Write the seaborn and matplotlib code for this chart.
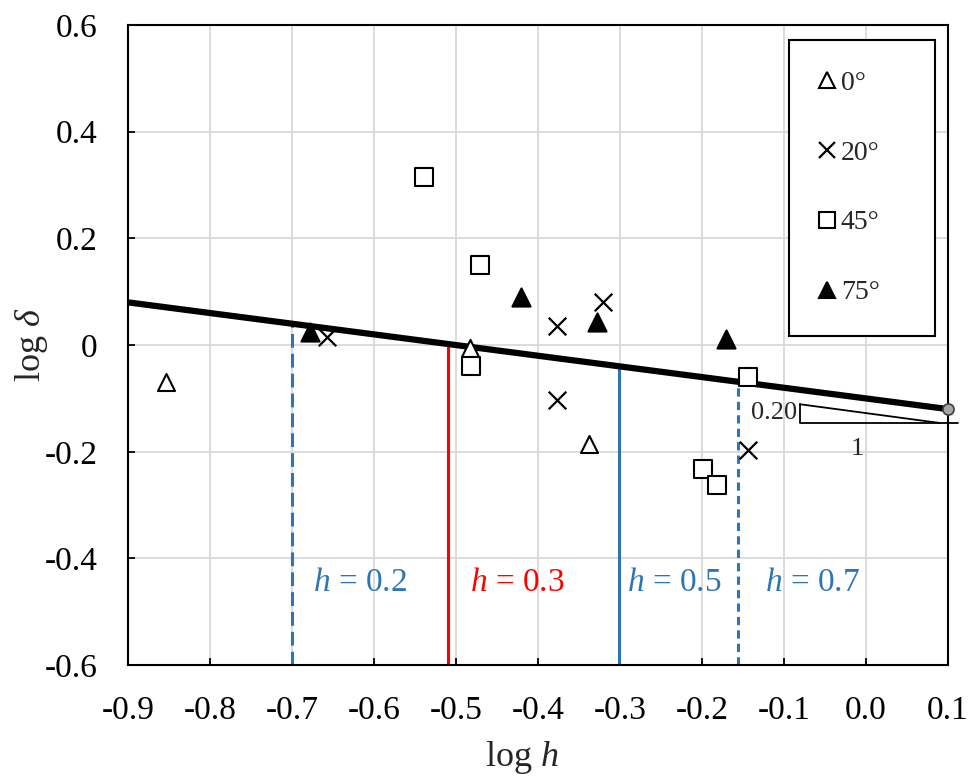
import numpy as np
import pandas as pd
import matplotlib
matplotlib.use("Agg")
import matplotlib.pyplot as plt
from matplotlib.lines import Line2D
import seaborn as sns

# ---- data ----
angles = ["0°", "20°", "45°", "75°"]
x_0 = [-0.854, -0.483, -0.338]
y_0 = [-0.069, -0.006, -0.186]
x_20 = [-0.657, -0.377, -0.320, -0.377, -0.144]
y_20 = [0.015, 0.036, 0.081, -0.103, -0.197]
x_45 = [-0.539, -0.470, -0.482, -0.144, -0.199, -0.182]
y_45 = [0.315, 0.150, -0.039, -0.060, -0.233, -0.263]
x_75 = [-0.678, -0.421, -0.328, -0.170]
y_75 = [0.024, 0.090, 0.043, 0.011]

fit_slope = -0.20
fit_intercept = -0.10
fit_x = [-0.9, 0.1]

h_values = ["0.2", "0.3", "0.5", "0.7"]
h_logs = [-0.70, -0.51, -0.301, -0.156]

x_ticks = [-0.9, -0.8, -0.7, -0.6, -0.5, -0.4, -0.3, -0.2, -0.1, 0.0, 0.1]
x_ticklabels = ["-0.9", "-0.8", "-0.7", "-0.6", "-0.5", "-0.4", "-0.3", "-0.2", "-0.1", "0.0", "0.1"]
y_ticks = [-0.6, -0.4, -0.2, 0.0, 0.2, 0.4, 0.6]
y_ticklabels = ["-0.6", "-0.4", "-0.2", "0", "0.2", "0.4", "0.6"]

df = pd.concat([
    pd.DataFrame({"x": x_0, "y": y_0, "angle": angles[0]}),
    pd.DataFrame({"x": x_20, "y": y_20, "angle": angles[1]}),
    pd.DataFrame({"x": x_45, "y": y_45, "angle": angles[2]}),
    pd.DataFrame({"x": x_75, "y": y_75, "angle": angles[3]}),
])

# ---- style ----
sns.set_theme(style="white")
plt.rcParams["font.family"] = ["Liberation Serif", "DejaVu Serif"]
plt.rcParams["mathtext.fontset"] = "custom"
plt.rcParams["mathtext.rm"] = "Liberation Serif"
plt.rcParams["mathtext.it"] = "Liberation Serif:italic"
plt.rcParams["axes.unicode_minus"] = False

fig = plt.figure(figsize=(9.7, 7.78), dpi=100)
ax = fig.add_axes([0.132, 0.145, 0.845, 0.823])

blue = "#2E75B6"
red = "#FF0000"

ax.set_xlim(-0.9, 0.1)
ax.set_ylim(-0.6, 0.6)
ax.set_xticks(x_ticks)
ax.set_yticks(y_ticks)
ax.set_xticklabels(x_ticklabels)
ax.set_yticklabels(y_ticklabels)
ax.grid(True, color="#d9d9d9", lw=1.3, zorder=0)
ax.set_axisbelow(True)

# fit line
fx = np.array(fit_x)
ax.plot(fx, fit_slope * fx + fit_intercept, color="black", lw=4.5, zorder=3, solid_capstyle="butt")
ax.plot([fit_x[1]], [fit_slope * fit_x[1] + fit_intercept], "o", ms=8,
        mfc="#a6a6a6", mec="#404040", mew=1.2, zorder=6, clip_on=False)

# vertical h lines
styles = [(blue, (0, (4.5, 2))), (red, "-"), (blue, "-"), (blue, (0, (2.7, 1.7)))]
for hl, (c, ls) in zip(h_logs, styles):
    ytop = fit_slope * hl + fit_intercept
    ax.plot([hl, hl], [-0.6, ytop], color=c, lw=2.2, ls=ls, zorder=2)

label_x = [-0.674, -0.483, -0.291, -0.123]
for lx, hv, (c, _) in zip(label_x, h_values, styles):
    ax.text(lx, -0.445, "$h$ = " + hv, color=c, fontsize=24, va="center", ha="left", zorder=5)

# scatter markers
marker_specs = {
    "0°": dict(marker="^", facecolor="white", edgecolor="black", s=150, linewidth=1.5),
    "20°": dict(marker="x", color="black", s=160, linewidth=1.6),
    "45°": dict(marker="s", facecolor="white", edgecolor="black", s=180, linewidth=1.5),
    "75°": dict(marker="^", facecolor="black", edgecolor="black", s=170, linewidth=1.5),
}
for a in angles:
    sub = df[df["angle"] == a]
    sns.scatterplot(data=sub, x="x", y="y", ax=ax, zorder=4, legend=False, **marker_specs[a])

leg_handles = [
    Line2D([], [], ls="none", marker="^", mfc="white", mec="black", ms=11, mew=1.5),
    Line2D([], [], ls="none", marker="x", color="black", ms=11, mew=1.6),
    Line2D([], [], ls="none", marker="s", mfc="white", mec="black", ms=11, mew=1.5),
    Line2D([], [], ls="none", marker="^", mfc="black", mec="black", ms=12, mew=1.5),
]
leg = ax.legend(leg_handles, angles, loc="upper left",
                bbox_to_anchor=(0.807, 0.536, 0.178, 0.441), mode="expand",
                fontsize=20, frameon=True, fancybox=False, edgecolor="black",
                handlelength=0.5, handletextpad=0.25, labelspacing=1.6,
                borderpad=1.1, borderaxespad=0, framealpha=1)
leg.get_frame().set_linewidth(1.5)
leg.set_zorder(7)

# slope triangle
tx0, tx1, tip = -0.08, 0.113, 0.09
ty0, ty1 = -0.111, -0.146
ax.plot([tx0, tx0, tx1], [ty0, ty1, ty1], color="black", lw=1.3, clip_on=False, zorder=5)
ax.plot([tx0, tip], [ty0, ty1], color="black", lw=1.3, clip_on=False, zorder=5)
ax.text(-0.084, -0.128, "0.20", fontsize=19, ha="right", va="center")
ax.text(-0.010, -0.195, "1", fontsize=19, ha="center", va="center")

# spines & ticks
for sp in ax.spines.values():
    sp.set_visible(True)
    sp.set_color("black")
    sp.set_linewidth(1.5)
ax.tick_params(axis="both", direction="in", length=5, width=1.3, colors="black",
               labelsize=24, bottom=True, left=True)
ax.tick_params(axis="x", pad=22)
ax.tick_params(axis="y", pad=22)
ax.set_xlabel("log $h$", fontsize=26)
ax.set_ylabel("log $\\delta$", fontsize=26)
ax.xaxis.set_label_coords(0.48, -0.115)
ax.yaxis.set_label_coords(-0.095, 0.5)

fig.savefig("out.png", dpi=100)
